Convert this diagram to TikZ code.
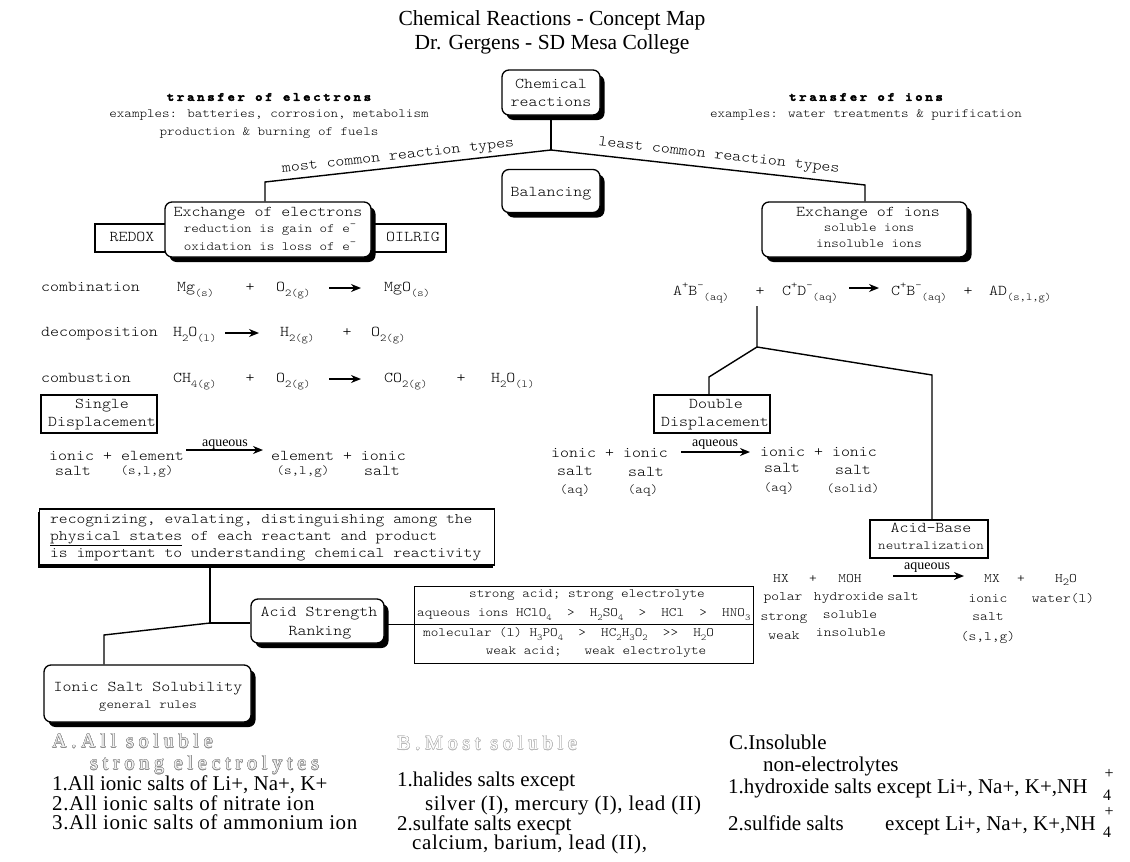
\documentclass[tikz,border=0pt]{standalone}
\usepackage{fontspec}
\setmainfont{Liberation Serif}
\newfontfamily\mono{lmmonolt10-regular.otf}[FakeStretch=1.14]
\newfontfamily\spacedbold{lmmonolt10-bold.otf}[LetterSpace=21, FakeStretch=1.14, FakeBold=3.5]
\newfontfamily\spacedserif{Liberation Serif}[LetterSpace=24]
\newfontfamily\wideserif{Liberation Serif}[LetterSpace=3]
\usepackage[copies]{contour}
\contourlength{0.45pt}
\usetikzlibrary{shadows,arrows.meta}
\newcommand\myfs[1]{\fontsize{#1}{#1}\selectfont}
\newcommand\chs[1]{\raisebox{-0.3em}{\myfs{10.5}#1}}
\newcommand\chp[1]{\raisebox{0.45em}{\myfs{10.5}#1}}
\newcommand\tbs[1]{\raisebox{-0.3em}{\myfs{9}#1}}
\tikzset{
  rbox/.style={draw, line width=1.3pt, rounded corners=7pt, fill=white,
    drop shadow={shadow xshift=4.5pt, shadow yshift=-5pt, fill=black, opacity=1}},
  sbox/.style={draw, line width=1.8pt, fill=white, inner sep=0pt},
  conn/.style={line width=1.4pt},
  rarr/.style={line width=1.8pt, -{Stealth[length=10pt,width=8pt]}},
  tm/.style={inner sep=0pt, font=\mono\myfs{15}, text height=10.5pt, text depth=3.5pt},
  ts/.style={inner sep=0pt, font=\mono\myfs{12.6}, text height=8.8pt, text depth=3pt},
  ta/.style={inner sep=0pt, font=\mono\myfs{13}, text height=9.1pt, text depth=3.1pt},
  ttb/.style={inner sep=0pt, font=\mono\myfs{12.7}, text height=8.9pt, text depth=3pt},
  tser/.style={inner sep=0pt, anchor=west, font=\myfs{21}, text height=13pt, text depth=4pt},
  twide/.style={inner sep=0pt, anchor=west, font=\wideserif\myfs{21}, text height=13pt, text depth=4pt},
  tout/.style={inner sep=0pt, anchor=west, font=\spacedserif\myfs{20}, text height=13.5pt, text depth=4.3pt},
  aqs/.style={inner sep=0pt, font=\myfs{14}},
}
\begin{document}
\begin{tikzpicture}[x=1pt,y=-1pt]
\useasboundingbox (0,0) rectangle (1130,862);
% ---------- titles
\node[inner sep=0pt, font=\myfs{21.5}] (title1) at (552,20) {Chemical Reactions - Concept Map};
\node[inner sep=0pt, font=\myfs{21.5}] (title2) at (552,44) {Dr. Gergens - SD Mesa College};
% ---------- headers
\node[inner sep=0pt, font=\spacedbold\myfs{12.5}] (te1) at (269,97) {transfer of electrons};
\node[ts] (te2) at (269,115) {examples: batteries, corrosion, metabolism};
\node[ts] (te3) at (269,133) {production \& burning of fuels};
\node[inner sep=0pt, font=\spacedbold\myfs{12.5}] (ti1) at (866,97) {transfer of ions};
\node[ts] (ti2) at (866,115) {examples: water treatments \& purification};
% ---------- top boxes
\node[rbox, minimum width=98pt, minimum height=45pt] (chem) at (551,92.5) {};
\node[tm] (chemT1) at (551,85) {Chemical};
\node[tm] (chemT2) at (551,103) {reactions};
\node[rbox, minimum width=98pt, minimum height=43pt] (bal) at (551,191) {};
\node[tm] (balT) at (551,193) {Balancing};
\node[sbox, minimum width=72pt, minimum height=28pt] (redox) at (131,238) {};
\node[tm] (redoxT) at (132,238) {REDOX};
\node[sbox, minimum width=72pt, minimum height=28pt] (oil) at (410,238) {};
\node[tm] (oilT) at (413,238) {OILRIG};
\node[rbox, minimum width=206pt, minimum height=55pt] (exe) at (268,229.5) {};
\node[tm] (exeT1) at (268,213) {Exchange of electrons};
\node[ts] (exeT2) at (270,230) {reduction is gain of e\chp{-}};
\node[ts] (exeT3) at (270,248) {oxidation is loss of e\chp{-}};
\node[rbox, minimum width=205pt, minimum height=55pt] (exi) at (864.5,229.5) {};
\node[tm] (exiT1) at (868,213) {Exchange of ions};
\node[ts] (exiT2) at (869,229) {soluble ions};
\node[ts] (exiT3) at (869,245) {insoluble ions};
% ---------- top connectors
\coordinate (j1) at (551,150);
\coordinate (kL) at (265,182);
\coordinate (kR) at (865,185);
\draw[conn] (chem.south) -- (j1);
\draw[conn] (j1) -- (kL) -- (kL |- exe.north);
\draw[conn] (j1) -- (kR) -- (kR |- exi.north);
\node[tm, rotate=6.4] (most) at (398,156) {most common reaction types};
\node[tm, rotate=-6.4] (least) at (719,156) {least common reaction types};
% ---------- left reactions
\node[tm, anchor=west] (comb) at (41,288) {combination};
\node[tm, anchor=west] (c1) at (177,288) {Mg\chs{(s)}};
\node[tm] (c2) at (250,288) {+};
\node[tm, anchor=west] (c3) at (276,288) {O\chs{2(g)}};
\coordinate (ca1) at (329,288); \coordinate (ca2) at (361,288);
\draw[rarr] (ca1) -- (ca2);
\node[tm, anchor=west] (c4) at (384,288) {MgO\chs{(s)}};
\node[tm, anchor=west] (deco) at (41,333) {decomposition};
\node[tm, anchor=west] (d1) at (173,333) {H\chs{2}O\chs{(l)}};
\coordinate (da1) at (225,333); \coordinate (da2) at (259,333);
\draw[rarr] (da1) -- (da2);
\node[tm, anchor=west] (d2) at (280,333) {H\chs{2(g)}};
\node[tm] (d3) at (347,333) {+};
\node[tm, anchor=west] (d4) at (371,333) {O\chs{2(g)}};
\node[tm, anchor=west] (combu) at (41,379) {combustion};
\node[tm, anchor=west] (u1) at (173,379) {CH\chs{4(g)}};
\node[tm] (u2) at (250,379) {+};
\node[tm, anchor=west] (u3) at (276,379) {O\chs{2(g)}};
\coordinate (ua1) at (329,379); \coordinate (ua2) at (361,379);
\draw[rarr] (ua1) -- (ua2);
\node[tm, anchor=west] (u4) at (384,379) {CO\chs{2(g)}};
\node[tm] (u5) at (461,379) {+};
\node[tm, anchor=west] (u6) at (491,379) {H\chs{2}O\chs{(l)}};
% ---------- single displacement
\node[sbox, minimum width=116pt, minimum height=38pt] (single) at (99,414) {};
\node[tm] (singleT1) at (102,405) {Single};
\node[tm] (singleT2) at (102,423) {Displacement};
\node[tm, anchor=west] (s1) at (49,457) {ionic + element};
\node[tm] (s2) at (73,472) {salt};
\node[ts] (s3) at (147,472) {(s,l,g)};
\coordinate (sa1) at (186,450); \coordinate (sa2) at (263,450);
\draw[rarr] (sa1) -- (sa2);
\node[aqs] (saq) at (225,445) {aqueous};
\node[tm, anchor=west] (s4) at (271,457) {element + ionic};
\node[ts] (s5) at (303,472) {(s,l,g)};
\node[tm] (s6) at (382,472) {salt};
% ---------- ion exchange reaction
\node[tm, anchor=west] (i1) at (673,292) {A\chp{+}B\chp{-}\chs{(aq)}};
\node[tm] (i2) at (760,292) {+};
\node[tm, anchor=west] (i3) at (782,292) {C\chp{+}D\chp{-}\chs{(aq)}};
\coordinate (ia1) at (849,288); \coordinate (ia2) at (879,288);
\draw[rarr] (ia1) -- (ia2);
\node[tm, anchor=west] (i4) at (891,292) {C\chp{+}B\chp{-}\chs{(aq)}};
\node[tm] (i5) at (968,292) {+};
\node[tm, anchor=west] (i6) at (989,292) {AD\chs{(s,l,g)}};
% ---------- double displacement / acid-base
\node[sbox, minimum width=116pt, minimum height=38pt] (double) at (712,414) {};
\node[tm] (doubleT1) at (716,405) {Double};
\node[tm] (doubleT2) at (715,423) {Displacement};
\node[sbox, minimum width=118pt, minimum height=38pt] (ab) at (929,539) {};
\node[tm] (abT1) at (931,529) {Acid-Base};
\node[ts] (abT2) at (931,547) {neutralization};
\coordinate (itop) at (757,306);
\coordinate (j2) at (757,347);
\coordinate (kDD) at (709,377);
\coordinate (kAB) at (932,375);
\draw[conn] (itop) -- (j2) -- (kDD) -- (kDD |- double.north);
\draw[conn] (j2) -- (kAB) -- (kAB |- ab.north);
\node[tm, anchor=west] (dd1) at (551,454) {ionic + ionic};
\node[tm] (dd2) at (575,472) {salt};
\node[tm] (dd3) at (646,473) {salt};
\node[ts] (dd4) at (575,491) {(aq)};
\node[ts] (dd5) at (643,491) {(aq)};
\coordinate (dda1) at (681,452); \coordinate (dda2) at (750,452);
\draw[rarr] (dda1) -- (dda2);
\node[aqs] (ddaq) at (715,445) {aqueous};
\node[tm, anchor=west] (dd6) at (760,453) {ionic + ionic};
\node[tm] (dd7) at (782,469) {salt};
\node[tm] (dd8) at (853,471) {salt};
\node[ts] (dd9) at (779,489) {(aq)};
\node[ts] (dd10) at (853,490) {(solid)};
% acid-base reaction
\node[ta] (hx) at (781,579) {HX};
\node[ta] (hxp) at (813,579) {+};
\node[ta] (moh) at (850,579) {MOH};
\node[ta] (polar) at (783,597) {polar};
\node[ta] (hydr) at (849,597) {hydroxide};
\node[ta] (hsalt) at (903,597) {salt};
\node[ta] (strong) at (784,617) {strong};
\node[ta] (solu) at (850,615) {soluble};
\node[ta] (weak) at (784,636) {weak};
\node[ta] (insolu) at (851,633) {insoluble};
\coordinate (aba1) at (893,576); \coordinate (aba2) at (964,576);
\draw[rarr] (aba1) -- (aba2);
\node[aqs] (abaq) at (927,568) {aqueous};
\node[ta] (mx) at (992,579) {MX};
\node[ta] (mxp) at (1021,579) {+};
\node[ta] (h2o) at (1066,579) {H\chs{2}O};
\node[ta] (ionic) at (988,599) {ionic};
\node[ta] (water) at (1063,599) {water(l)};
\node[ta] (msalt) at (988,617) {salt};
\node[ta] (msl) at (988,637) {(s,l,g)};
% ---------- recognizing box and bottom-left tree
\node[draw, line width=1.8pt, fill=white, minimum width=455pt, minimum height=56pt,
  drop shadow={shadow xshift=-2pt, shadow yshift=-2.5pt, fill=black, opacity=1}] (rec) at (267,537) {};
\node[inner sep=0pt, anchor=west, font=\mono\myfs{14.7}, text height=10.3pt, text depth=3.4pt] (recT1) at (50,520) {recognizing, evalating, distinguishing among the};
\node[inner sep=0pt, anchor=west, font=\mono\myfs{14.7}, text height=10.3pt, text depth=3.4pt] (recT2) at (50,537) {\underline{physical states} of each reactant and product};
\node[inner sep=0pt, anchor=west, font=\mono\myfs{14.7}, text height=10.3pt, text depth=3.4pt] (recT3) at (50,554) {is important to understanding chemical reactivity};
\node[rbox, minimum width=133pt, minimum height=44pt] (asr) at (317.5,621) {};
\node[tm] (asrT1) at (319,613) {Acid Strength};
\node[tm] (asrT2) at (320,632) {Ranking};
\node[rbox, minimum width=207pt, minimum height=57pt] (iss) at (147.5,693.5) {};
\node[tm] (issT1) at (148,688) {Ionic Salt Solubility};
\node[ts] (issT2) at (148,706) {general rules};
\coordinate (j3) at (210,623);
\coordinate (kIS) at (104,635);
\draw[conn] (rec.south -| j3) -- (j3) -- (j3 -| asr.west);
\draw[conn] (j3) -- (kIS) -- (kIS |- iss.north);
% ---------- acid strength table
\node[draw, line width=1.8pt, minimum width=339pt, minimum height=77pt, inner sep=0pt] (tbl) at (584,625) {};
\coordinate (tmid) at (584,624.5);
\draw[line width=1.8pt] (asr.east |- tmid) -- (tbl.east |- tmid);
\node[ttb] (tb1) at (587,595) {strong acid; strong electrolyte};
\node[ttb, anchor=west] (tb2) at (417,614) {aqueous ions HClO\tbs{4}~~>~~H\tbs{2}SO\tbs{4}~~>~~HCl~~>~~HNO\tbs{3}};
\node[ttb, anchor=west] (tb3) at (423,634) {molecular (l)~H\tbs{3}PO\tbs{4}~~>~~HC\tbs{2}H\tbs{3}O\tbs{2}~~>\kern0pt>~~H\tbs{2}O};
\node[ttb] (tb4) at (596,652) {weak acid;~~~weak electrolyte};
% ---------- bottom rules
\node[tout] (ah1) at (52,743) {\contour{black!45}{\textcolor{black!6}{A.All soluble}}};
\node[tout] (ah2) at (90,765) {\contour{black!45}{\textcolor{black!6}{strong electrolytes}}};
\node[tser] (a1) at (52,786) {1.All ionic salts of Li+, Na+, K+};
\node[twide] (a2) at (52,806) {2.All ionic salts of nitrate ion};
\node[twide] (a3) at (52,825) {3.All ionic salts of ammonium ion};
\node[tout] (bh) at (397,745) {\contour{black!28}{\textcolor{white}{B.Most soluble}}};
\node[tser] (b1) at (397,782) {1.halides salts except};
\node[twide] (b2) at (425,806) {silver (I), mercury (I), lead (II)};
\node[tser] (b3) at (397,826) {2.sulfate salts execpt};
\node[twide] (b4) at (412,845) {calcium, barium, lead (II),};
\node[tser] (ch1) at (729,745) {C.Insoluble};
\node[tser] (ch2) at (763,767) {non-electrolytes};
\node[tser] (c1l) at (728,789) {1.hydroxide salts except Li+, Na+, K+,NH};
\node[inner sep=0pt, font=\myfs{16}] (c1p) at (1109,774) {+};
\node[inner sep=0pt, font=\myfs{16}] (c1n) at (1107,795) {4};
\node[tser] (c2l) at (728,826) {2.sulfide salts};
\node[tser] (c2r) at (885,826) {except Li+, Na+, K+,NH};
\node[inner sep=0pt, font=\myfs{16}] (c2p) at (1109,812) {+};
\node[inner sep=0pt, font=\myfs{16}] (c2n) at (1107,832) {4};
\end{tikzpicture}
\end{document}
